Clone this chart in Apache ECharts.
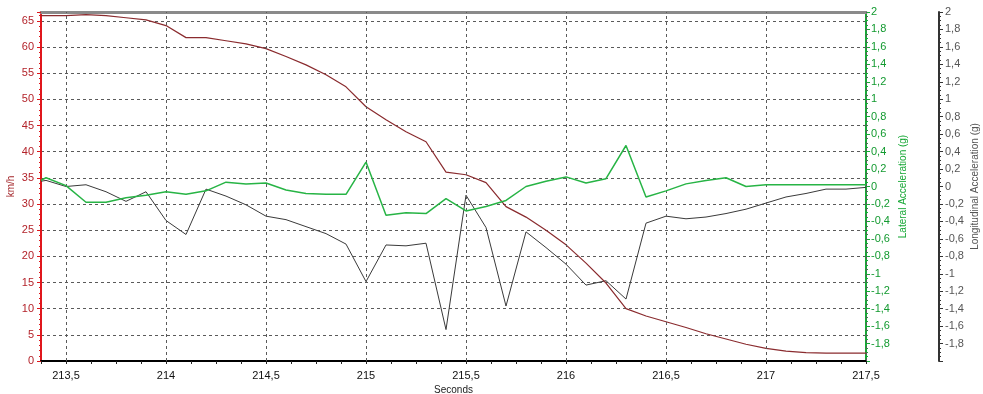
<!DOCTYPE html>
<html>
<head>
<meta charset="utf-8">
<script src="https://cdn.jsdelivr.net/npm/echarts@6/dist/echarts.min.js"></script>
<style>
html,body{margin:0;padding:0;background:#fff;}
#c{width:983px;height:394px;}
</style>
</head>
<body>
<div id="c"></div>
<script>
var times = [213.375, 213.4, 213.5, 213.6, 213.7, 213.8, 213.9, 214.0, 214.1, 214.2, 214.3, 214.4, 214.5, 214.6, 214.7, 214.8, 214.9, 215.0, 215.1, 215.2, 215.3, 215.4, 215.5, 215.6, 215.7, 215.8, 215.9, 216.0, 216.1, 216.2, 216.3, 216.4, 216.5, 216.6, 216.7, 216.8, 216.9, 217.0, 217.1, 217.2, 217.3, 217.4, 217.5];
var speedKmh = [66.0, 66.0, 66.0, 66.2, 66.0, 65.6, 65.2, 64.1, 61.8, 61.8, 61.2, 60.6, 59.7, 58.2, 56.6, 54.7, 52.4, 48.6, 46.1, 43.8, 41.9, 36.1, 35.6, 34.1, 29.5, 27.5, 25.0, 22.2, 18.7, 14.9, 10.0, 8.6, 7.5, 6.4, 5.2, 4.2, 3.2, 2.4, 1.9, 1.6, 1.5, 1.5, 1.5];
var lateralG = [0.07, 0.10, 0.01, -0.18, -0.18, -0.13, -0.10, -0.06, -0.09, -0.05, 0.05, 0.03, 0.04, -0.04, -0.08, -0.09, -0.09, 0.28, -0.33, -0.30, -0.31, -0.14, -0.28, -0.23, -0.16, 0.00, 0.06, 0.11, 0.04, 0.09, 0.47, -0.12, -0.05, 0.03, 0.07, 0.10, 0.00, 0.02, 0.02, 0.02, 0.02, 0.02, 0.02];
var longitudinalG = [0.06, 0.07, 0.00, 0.02, -0.06, -0.17, -0.06, -0.39, -0.55, -0.03, -0.11, -0.21, -0.34, -0.38, -0.46, -0.54, -0.66, -1.09, -0.67, -0.68, -0.65, -1.64, -0.10, -0.47, -1.37, -0.52, -0.70, -0.89, -1.13, -1.08, -1.29, -0.42, -0.34, -0.37, -0.35, -0.31, -0.26, -0.19, -0.12, -0.08, -0.03, -0.03, -0.01];
var xTickLabels = [213.5, 214, 214.5, 215, 215.5, 216, 216.5, 217, 217.5];

var FONT = 'Liberation Sans';
function pairs(ys){ return times.map(function(t,i){ return [t, ys[i]]; }); }
function commaNum(v){
  var r = Math.round(v*10)/10;
  if (Math.abs(r) < 1e-9) r = 0;
  return String(r).replace('.', ',');
}
function gFmt(v){
  var r = Math.round(v*10)/10;
  if (r <= -2) return '';
  return commaNum(r);
}

var chart = echarts.init(document.getElementById('c'), null, {renderer:'canvas'});
var option = {
  animation: false,
  backgroundColor: '#ffffff',
  textStyle: {fontFamily: FONT},
  grid: {left: 41, right: 117, top: 12, bottom: 33, containLabel: false, outerBoundsMode: 'none'},
  xAxis: [{
    type: 'value', position: 'bottom',
    min: 213.375, max: 217.5, interval: 0.125,
    name: 'Seconds', nameLocation: 'middle', nameGap: 24, nameMoveOverlap: false,
    nameTextStyle: {color: '#222', fontSize: 10, fontFamily: FONT},
    axisLine: {show: true, onZero: false, lineStyle: {color: '#000', width: 2}},
    axisTick: {show: true, length: 3, lineStyle: {color: '#222'}},
    axisLabel: {
      color: '#111', fontSize: 11, fontFamily: FONT, margin: 9,
      showMinLabel: true, showMaxLabel: true,
      formatter: function(v){
        var m = Math.round(v*1000)/1000;
        for (var i=0;i<xTickLabels.length;i++){ if (Math.abs(xTickLabels[i]-m) < 1e-6) return commaNum(m); }
        return '';
      }
    },
    splitLine: {show: false}
  }, {
    type: 'value', position: 'top',
    min: 213.375, max: 217.5,
    axisLine: {show: true, onZero: false, lineStyle: {color: '#8a8a8a', width: 3}},
    axisTick: {show: false}, axisLabel: {show: false}, splitLine: {show: false}
  }],
  yAxis: [{
    type: 'value', position: 'left',
    min: 0, max: 66.7, interval: 5,
    name: 'km/h', nameLocation: 'middle', nameGap: 25, nameRotate: 90, nameMoveOverlap: false,
    nameTextStyle: {color: '#a3262a', fontSize: 10, fontFamily: FONT},
    axisLine: {show: true, lineStyle: {color: '#e0161c', width: 2}},
    axisTick: {show: true, length: 4, lineStyle: {color: '#e0161c'}},
    minorTick: {show: true, splitNumber: 5, length: 2, lineStyle: {color: '#e0161c'}},
    axisLabel: {color: '#b3232a', fontSize: 11, fontFamily: FONT, margin: 7,
      formatter: function(v){ var r = Math.round(v*10)/10; return (r % 5 === 0) ? String(r) : ''; }},
    splitLine: {show: true, lineStyle: {color: '#5a5a5a', width: 1, type: [3,3]}}
  }, {
    type: 'value', position: 'right', offset: 0,
    min: -2, max: 2, interval: 0.2,
    name: 'Lateral Acceleration (g)', nameLocation: 'middle', nameGap: 32, nameRotate: 90, nameMoveOverlap: false,
    nameTextStyle: {color: '#17a836', fontSize: 10, fontFamily: FONT},
    axisLine: {show: true, lineStyle: {color: '#17a836', width: 2}},
    axisTick: {show: true, length: 4, lineStyle: {color: '#17a836'}},
    minorTick: {show: true, splitNumber: 4, length: 2, lineStyle: {color: '#17a836'}},
    axisLabel: {color: '#139a30', fontSize: 11, fontFamily: FONT, margin: 5, formatter: gFmt},
    splitLine: {show: false}
  }, {
    type: 'value', position: 'right', offset: 73,
    min: -2, max: 2, interval: 0.2,
    name: 'Longitudinal Acceleration (g)', nameLocation: 'middle', nameGap: 31, nameRotate: 90, nameMoveOverlap: false,
    nameTextStyle: {color: '#555', fontSize: 10, fontFamily: FONT},
    axisLine: {show: true, lineStyle: {color: '#333', width: 2}},
    axisTick: {show: true, length: 4, lineStyle: {color: '#333'}},
    minorTick: {show: true, splitNumber: 4, length: 2, lineStyle: {color: '#333'}},
    axisLabel: {color: '#555', fontSize: 11, fontFamily: FONT, margin: 6, formatter: gFmt},
    splitLine: {show: false}
  }],
  series: [{
    name: 'Longitudinal', type: 'line', xAxisIndex: 0, yAxisIndex: 2,
    data: pairs(longitudinalG), showSymbol: false, symbol: 'none',
    lineStyle: {color: '#3a3a3a', width: 1},
    markLine: {
      silent: true, symbol: ['none','none'], label: {show: false},
      lineStyle: {color: '#5a5a5a', width: 1, type: [3,3]},
      data: xTickLabels.map(function(v){ return {xAxis: v}; })
    },
    z: 3
  }, {
    name: 'Speed', type: 'line', xAxisIndex: 0, yAxisIndex: 0,
    data: pairs(speedKmh), showSymbol: false, symbol: 'none',
    lineStyle: {color: '#8a2b2e', width: 1.2}, z: 4
  }, {
    name: 'Lateral', type: 'line', xAxisIndex: 0, yAxisIndex: 1,
    data: pairs(lateralG), showSymbol: false, symbol: 'none',
    lineStyle: {color: '#27b445', width: 1.5}, z: 5
  }]
};
chart.setOption(option);
</script>
</body>
</html>
